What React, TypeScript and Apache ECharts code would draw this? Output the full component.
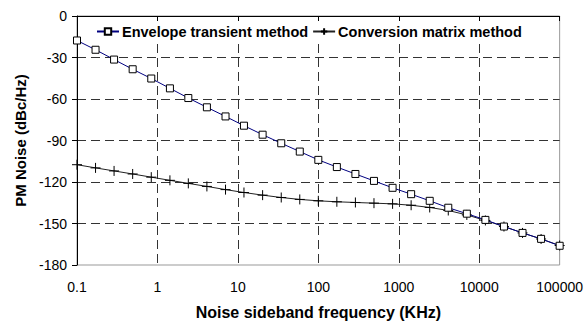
import React, { useEffect, useRef } from "react";
import * as echarts from "echarts";

const freqs = [
  0.1, 0.17, 0.289, 0.492, 0.838, 1.43, 2.42, 4.12, 7.02, 11.9, 20.3, 34.6, 58.8,
  100, 170, 289, 492, 838, 1425, 2425, 4125, 7018, 11940, 20310, 34560, 58790, 100000,
];
const envelope = [
  -17.7, -24.4, -31.5, -38.5, -45.2, -52.3, -59.3, -66, -72.6, -79.3, -85.8, -92, -98,
  -104, -109.2, -114.2, -119.2, -124.2, -128.8, -133.6, -138.6, -142.9, -147.4, -152.2,
  -156.8, -161.1, -166.1,
];
const conversion = [
  -107.5, -109.8, -112, -114.2, -116.5, -118.8, -121, -123.2, -125.5, -127.6, -129.5,
  -131.2, -132.6, -133.6, -134.3, -134.8, -135.3, -135.8, -136.8, -138.4, -140.6, -143.8,
  -147.8, -152.2, -156.8, -161.2, -165.9,
];
const seriesNames = ["Envelope transient method", "Conversion matrix method"];
const xTitle = "Noise sideband frequency (KHz)";
const yTitle = "PM Noise (dBc/Hz)";

export default function App() {
  const ref = useRef<HTMLDivElement>(null);
  useEffect(() => {
    if (!ref.current) return;
    const chart = echarts.init(ref.current, undefined, { renderer: "svg" });
    const font = "'Liberation Sans', Arial, sans-serif";
    const dashed = { color: "#333", type: [9, 5] as any, width: 1 };
    chart.setOption({
      animation: false,
      backgroundColor: "#fff",
      textStyle: { fontFamily: font },
      grid: {
        left: 77,
        right: 25,
        top: 16,
        bottom: 58,
        show: true,
        borderColor: "#999",
        borderWidth: 1,
        backgroundColor: "transparent",
      },
      legend: {
        left: 92,
        top: 21,
        itemWidth: 22,
        itemHeight: 8,
        itemGap: 4,
        padding: [3, 6, 3, 4],
        backgroundColor: "#fff",
        textStyle: { fontFamily: font, fontWeight: "bold", fontSize: 14.5, color: "#000", padding: [0, 0, 0, -2] },
        data: seriesNames,
      },
      xAxis: {
        type: "log",
        logBase: 10,
        min: 0.1,
        max: 100000,
        name: xTitle,
        nameLocation: "middle",
        nameGap: 39,
        nameTextStyle: { fontFamily: font, fontWeight: "bold", fontSize: 16, color: "#000" },
        axisLine: { show: true, lineStyle: { color: "#000", width: 1 } },
        axisTick: { show: true, inside: false, length: 5, lineStyle: { color: "#000" } },
        minorTick: { show: false },
        axisLabel: {
          fontFamily: font,
          fontSize: 14,
          color: "#000",
          margin: 15,
          formatter: (v: number) => String(v),
        },
        splitLine: { show: true, showMinLine: false, showMaxLine: false, lineStyle: dashed },
      },
      yAxis: {
        type: "value",
        min: -180,
        max: 0,
        interval: 30,
        name: yTitle,
        nameLocation: "middle",
        nameGap: 49,
        nameTextStyle: { fontFamily: font, fontWeight: "bold", fontSize: 15, color: "#000" },
        axisLine: { show: true, lineStyle: { color: "#000", width: 1 } },
        axisTick: { show: true, inside: false, length: 5, lineStyle: { color: "#000" } },
        axisLabel: { fontFamily: font, fontSize: 14, color: "#000", margin: 10 },
        splitLine: { show: true, showMinLine: false, showMaxLine: false, lineStyle: dashed },
      },
      series: [
        {
          name: seriesNames[0],
          type: "line",
          data: freqs.map((f, i) => [f, envelope[i]]),
          lineStyle: { color: "#000080", width: 1 },
          symbol: "rect",
          symbolSize: 7,
          showAllSymbol: true,
          itemStyle: { color: "#fff", borderColor: "#000", borderWidth: 1 },
          z: 3,
        },
        {
          name: seriesNames[1],
          type: "line",
          data: freqs.map((f, i) => [f, conversion[i]]),
          lineStyle: { color: "#222", width: 1 },
          symbol: "path://M0,5L10,5M5,0L5,10",
          symbolSize: 10,
          showAllSymbol: true,
          itemStyle: { color: "none", borderColor: "#000", borderWidth: 1 },
          z: 2,
        },
      ],
    });
    return () => chart.dispose();
  }, []);
  return <div ref={ref} style={{ width: 586, height: 325, position: "absolute", left: 0, top: 0 }} />;
}
